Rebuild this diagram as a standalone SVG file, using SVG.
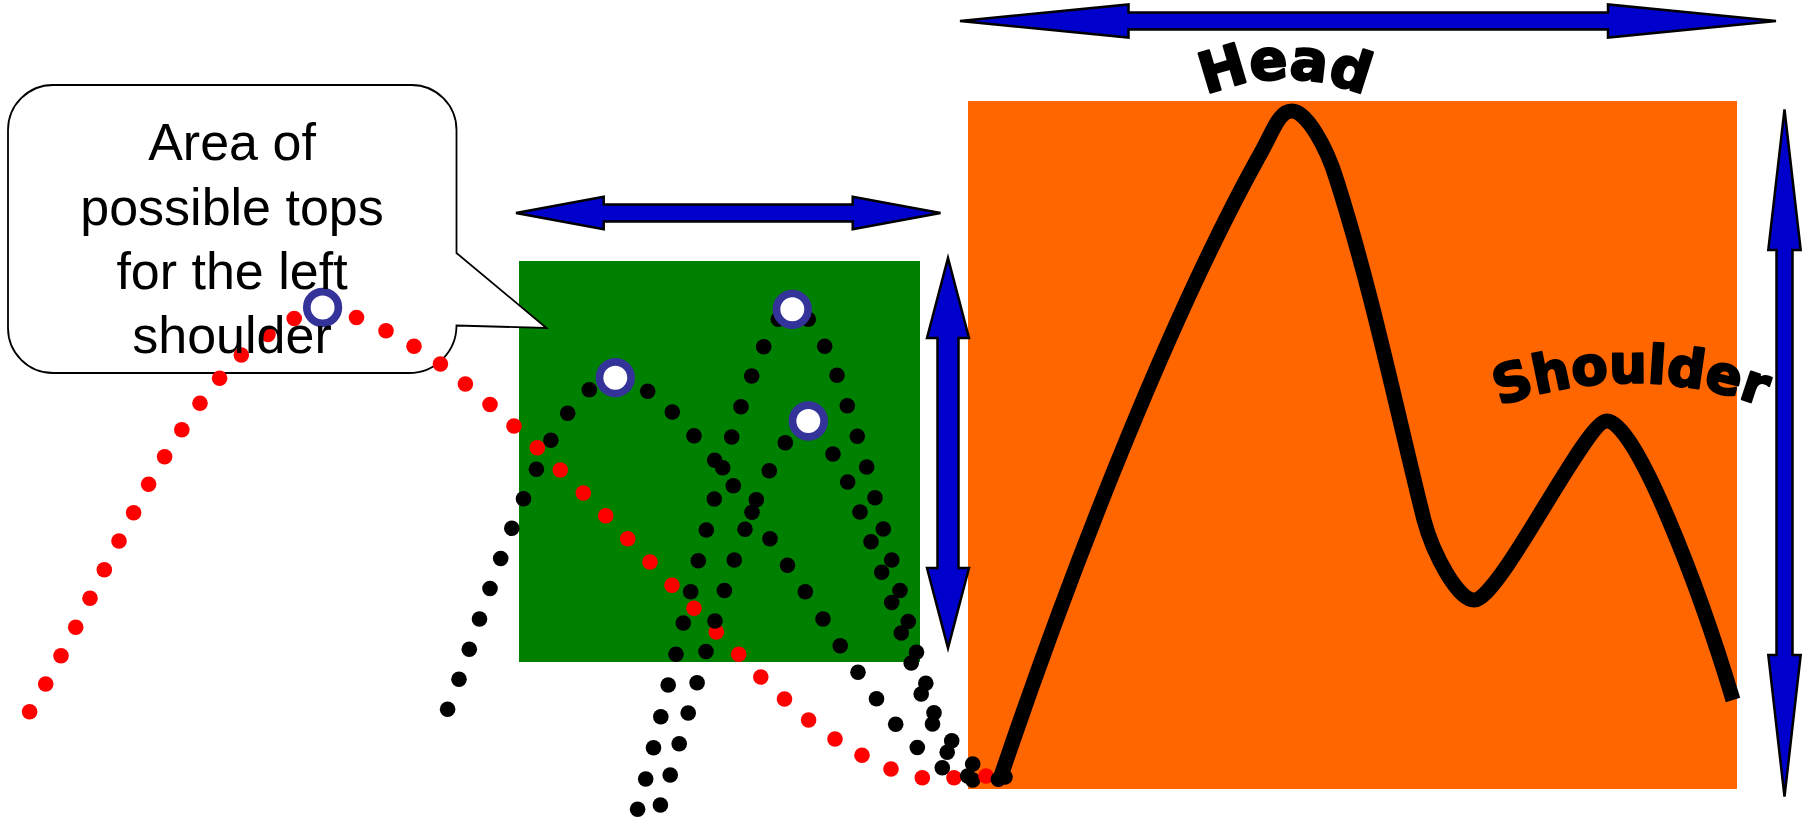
<svg xmlns="http://www.w3.org/2000/svg" xmlns:xlink="http://www.w3.org/1999/xlink" width="1803" height="821" viewBox="0 0 1803 821">
  <style>
    .zone-green { fill: #008000; }
    .zone-orange { fill: #FF6600; }
    .callout { fill: #FFFFFF; stroke: #000000; stroke-width: 1.8; stroke-linejoin: miter; }
    .callout-text { font-family: "Liberation Sans", Arial, sans-serif; font-size: 52px; fill: #000000; text-anchor: middle; }
    .barrow { fill: #0000CC; stroke: #000000; stroke-width: 2.5; stroke-linejoin: miter; }
    .dot-black { fill: #000000; }
    .dot-red { fill: #FF0000; }
    .ring { fill: #FFFFFF; stroke: #333399; stroke-width: 7.7; }
    .price { fill: none; stroke: #000000; stroke-width: 15; stroke-linecap: butt; stroke-linejoin: round; }
    .wordart { font-family: "DejaVu Sans", Verdana, sans-serif; font-weight: bold; fill: #000000; stroke: #000000; stroke-width: 2.4; stroke-linejoin: round; text-anchor: middle; }
  </style>
  <defs>
    <path id="headArc" d="M 1105,191.8 A 200 200 0 0 1 1465,191.8"/>
    <path id="shoulderArc" d="M 1381,476.4 A 380 380 0 0 1 1881,476.4"/>
  </defs>

  <!-- background zones -->
  <g id="orange-zone">
    <rect class="zone-orange" x="968" y="101" width="769" height="688"/>
  </g>
  <g id="green-zone">
    <rect class="zone-green" x="519" y="261" width="401" height="401"/>
  </g>

  <!-- callout bubble (outline) -->
  <g id="callout">
    <path class="callout" d="M 53,85 H 411.5 A 45 45 0 0 1 456.5,130 V 253 L 546.5,328 L 456.5,325.5 A 47.5 47.5 0 0 1 409,373 H 53 A 45 45 0 0 1 8,328 V 130 A 45 45 0 0 1 53,85 Z"/>
  </g>

  <!-- dimension arrows -->
  <g id="arrows">
    <polygon id="arrow-head-width" class="barrow" points="960,21 1128.5,4.5 1128.5,12.5 1608,12.5 1608,4.5 1776,21 1608,37.5 1608,29.5 1128.5,29.5 1128.5,37.5"/>
    <polygon id="arrow-green-width" class="barrow" points="516,213 603.7,196.7 603.7,204.5 852.7,204.5 852.7,196.7 940.5,213 852.7,229.3 852.7,221.5 603.7,221.5 603.7,229.3"/>
    <polygon id="arrow-green-height" class="barrow" points="948,258 969,338 958.5,338 958.5,568 969,568 948,648 927,568 937.5,568 937.5,338 927,338"/>
    <polygon id="arrow-head-height" class="barrow" points="1784.5,109.5 1800.7,250 1792.5,250 1792.5,655 1800.7,655 1784.5,796.7 1768.3,655 1776.5,655 1776.5,250 1768.3,250"/>
  </g>

  <!-- left-hand black dotted path -->
  <g id="path-a" class="dot-black">
    <circle cx="447.6" cy="709.3" r="7.8"/><circle cx="459" cy="679.3" r="7.8"/><circle cx="469.3" cy="649.3" r="7.8"/>
    <circle cx="479.5" cy="619" r="7.8"/><circle cx="490" cy="588.5" r="7.8"/><circle cx="500.7" cy="558.5" r="7.8"/>
    <circle cx="511.8" cy="528.3" r="7.8"/><circle cx="523.5" cy="498.7" r="7.8"/><circle cx="536.4" cy="469.2" r="7.8"/>
    <circle cx="550.8" cy="440.2" r="7.8"/><circle cx="567.7" cy="413.3" r="7.8"/><circle cx="589.3" cy="389.7" r="7.8"/>
    <circle cx="647.7" cy="391.3" r="7.8"/><circle cx="672.3" cy="412" r="7.8"/><circle cx="694" cy="435.7" r="7.8"/>
    <circle cx="714.7" cy="460.3" r="7.8"/><circle cx="733.3" cy="485.7" r="7.8"/><circle cx="752" cy="512.3" r="7.8"/>
    <circle cx="770" cy="538.7" r="7.8"/><circle cx="787.5" cy="565.2" r="7.8"/><circle cx="805.3" cy="591.8" r="7.8"/>
    <circle cx="823" cy="619" r="7.8"/><circle cx="840.2" cy="645.8" r="7.8"/><circle cx="858" cy="672.3" r="7.8"/>
    <circle cx="876.5" cy="698.7" r="7.8"/><circle cx="895.7" cy="724.3" r="7.8"/><circle cx="917.3" cy="747.5" r="7.8"/>
    <circle cx="942.3" cy="767.8" r="7.8"/>
  </g>

  <!-- red dotted path -->
  <g id="path-red" class="dot-red">
    <circle cx="29.6" cy="711.7" r="7.8"/><circle cx="45.7" cy="684" r="7.8"/><circle cx="61" cy="655.7" r="7.8"/>
    <circle cx="75.7" cy="627.3" r="7.8"/><circle cx="90" cy="598.3" r="7.8"/><circle cx="104.3" cy="569.7" r="7.8"/>
    <circle cx="119" cy="541" r="7.8"/><circle cx="133.6" cy="512.7" r="7.8"/><circle cx="148.6" cy="484.3" r="7.8"/>
    <circle cx="164.6" cy="456.7" r="7.8"/><circle cx="181.8" cy="429.7" r="7.8"/><circle cx="200" cy="403.3" r="7.8"/>
    <circle cx="219.6" cy="378.3" r="7.8"/><circle cx="241.3" cy="355" r="7.8"/><circle cx="268" cy="334.5" r="7.8"/>
    <circle cx="294.2" cy="318.5" r="7.8"/><circle cx="356.5" cy="317.5" r="7.8"/><circle cx="386" cy="330.7" r="7.8"/>
    <circle cx="414" cy="346.3" r="7.8"/><circle cx="440.4" cy="364" r="7.8"/><circle cx="465.4" cy="384" r="7.8"/>
    <circle cx="490" cy="404.5" r="7.8"/><circle cx="514" cy="426" r="7.8"/><circle cx="537.3" cy="447.7" r="7.8"/>
    <circle cx="560.3" cy="470" r="7.8"/><circle cx="583.3" cy="493" r="7.8"/><circle cx="605.7" cy="515.7" r="7.8"/>
    <circle cx="627.7" cy="538.7" r="7.8"/><circle cx="650" cy="562" r="7.8"/><circle cx="672" cy="585.3" r="7.8"/>
    <circle cx="694" cy="608.3" r="7.8"/><circle cx="716.3" cy="632" r="7.8"/><circle cx="738.7" cy="654.3" r="7.8"/>
    <circle cx="760.8" cy="677" r="7.8"/><circle cx="784.5" cy="699" r="7.8"/><circle cx="808.6" cy="720" r="7.8"/>
    <circle cx="835" cy="739" r="7.8"/><circle cx="862" cy="755.3" r="7.8"/><circle cx="891" cy="769" r="7.8"/>
    <circle cx="922.3" cy="777.7" r="7.8"/><circle cx="954" cy="777.7" r="7.8"/>
  </g>

  <!-- tall black dotted path -->
  <g id="path-b" class="dot-black">
    <circle cx="778.3" cy="319.3" r="7.8"/><circle cx="808.3" cy="319.3" r="7.8"/>
    <circle cx="763.7" cy="346.7" r="7.8"/><circle cx="751.7" cy="376" r="7.8"/><circle cx="741" cy="406.7" r="7.8"/>
    <circle cx="731.7" cy="437" r="7.8"/><circle cx="722.7" cy="467.7" r="7.8"/><circle cx="714.3" cy="499" r="7.8"/>
    <circle cx="706.3" cy="530" r="7.8"/><circle cx="698.3" cy="560.7" r="7.8"/><circle cx="690.7" cy="591.7" r="7.8"/>
    <circle cx="683.3" cy="623" r="7.8"/><circle cx="676" cy="654.2" r="7.8"/><circle cx="668.2" cy="685" r="7.8"/>
    <circle cx="660.8" cy="716.7" r="7.8"/><circle cx="653.5" cy="747.7" r="7.8"/><circle cx="645.7" cy="779" r="7.8"/>
    <circle cx="637.6" cy="809.3" r="7.8"/>
    <circle cx="824.7" cy="346.3" r="7.8"/><circle cx="837" cy="375.3" r="7.8"/><circle cx="847.3" cy="405.7" r="7.8"/>
    <circle cx="857.3" cy="436.3" r="7.8"/><circle cx="866.7" cy="467" r="7.8"/><circle cx="875" cy="497.7" r="7.8"/>
    <circle cx="883.3" cy="529" r="7.8"/><circle cx="891.7" cy="560" r="7.8"/><circle cx="900" cy="590.5" r="7.8"/>
    <circle cx="908.3" cy="621.5" r="7.8"/><circle cx="916.5" cy="652.3" r="7.8"/><circle cx="925.8" cy="683.3" r="7.8"/>
    <circle cx="934" cy="712.7" r="7.8"/><circle cx="951.7" cy="740.7" r="7.8"/><circle cx="972.7" cy="764" r="7.8"/>
    <circle cx="972.7" cy="780" r="7.8"/>
  </g>

  <!-- lower black dotted path -->
  <g id="path-c" class="dot-black">
    <circle cx="785.3" cy="442.7" r="7.8"/><circle cx="769.3" cy="470.7" r="7.8"/><circle cx="756.3" cy="499.7" r="7.8"/>
    <circle cx="745" cy="529.3" r="7.8"/><circle cx="734.3" cy="560" r="7.8"/><circle cx="724.4" cy="590.5" r="7.8"/>
    <circle cx="715" cy="621" r="7.8"/><circle cx="706" cy="651.5" r="7.8"/><circle cx="697.1" cy="682.7" r="7.8"/>
    <circle cx="688.2" cy="713" r="7.8"/><circle cx="679.2" cy="743.7" r="7.8"/><circle cx="670.2" cy="775" r="7.8"/>
    <circle cx="660.4" cy="805" r="7.8"/>
    <circle cx="833" cy="454" r="7.8"/><circle cx="847.7" cy="482" r="7.8"/><circle cx="860" cy="512" r="7.8"/>
    <circle cx="871" cy="541.7" r="7.8"/><circle cx="881.7" cy="572.2" r="7.8"/><circle cx="891.7" cy="602.5" r="7.8"/>
    <circle cx="901.3" cy="633" r="7.8"/><circle cx="911.2" cy="663" r="7.8"/><circle cx="921.2" cy="694" r="7.8"/>
    <circle cx="932.5" cy="724" r="7.8"/><circle cx="947.2" cy="752.3" r="7.8"/><circle cx="967.7" cy="776" r="7.8"/>
  </g>
  <g id="path-end">
    <circle class="dot-red" cx="986" cy="776" r="7.8"/>
    <circle class="dot-black" cx="998.3" cy="779.3" r="7.8"/>
    <circle class="dot-black" cx="1005" cy="777" r="7.8"/>
  </g>

  <!-- candidate tops -->
  <g id="tops">
    <circle class="ring" cx="322.6" cy="307.5" r="15.8"/>
    <circle class="ring" cx="615.3" cy="377.7" r="15.8"/>
    <circle class="ring" cx="792.3" cy="309.3" r="15.8"/>
    <circle class="ring" cx="808.3" cy="421" r="15.8"/>
  </g>

  <!-- callout label -->
  <g id="callout-label">
    <text class="callout-text" x="232" y="160">Area of</text>
    <text class="callout-text" x="232" y="224.5">possible tops</text>
    <text class="callout-text" x="232" y="288.5">for the left</text>
    <text class="callout-text" x="232" y="353">shoulder</text>
  </g>

  <!-- head and shoulder price line -->
  <g id="price-line">
    <path class="price" d="M 1001,776 C 1079,546 1175,308 1258,158 C 1272.8,133 1278,111 1292,111 C 1306,111 1326.5,146 1337,181 C 1372,291 1396.5,410 1424,520 C 1433.5,555 1458,600 1474,600 C 1500,600 1585,421 1607,421 C 1636,421 1700,590 1733,700"/>
  </g>

  <!-- arched labels -->
  <g id="label-head">
    <text class="wordart" font-size="56"><textPath xlink:href="#headArc" href="#headArc" startOffset="50%">Head</textPath></text>
  </g>
  <g id="label-shoulder">
    <text class="wordart" font-size="53"><textPath xlink:href="#shoulderArc" href="#shoulderArc" startOffset="50%">Shoulder</textPath></text>
  </g>
</svg>
